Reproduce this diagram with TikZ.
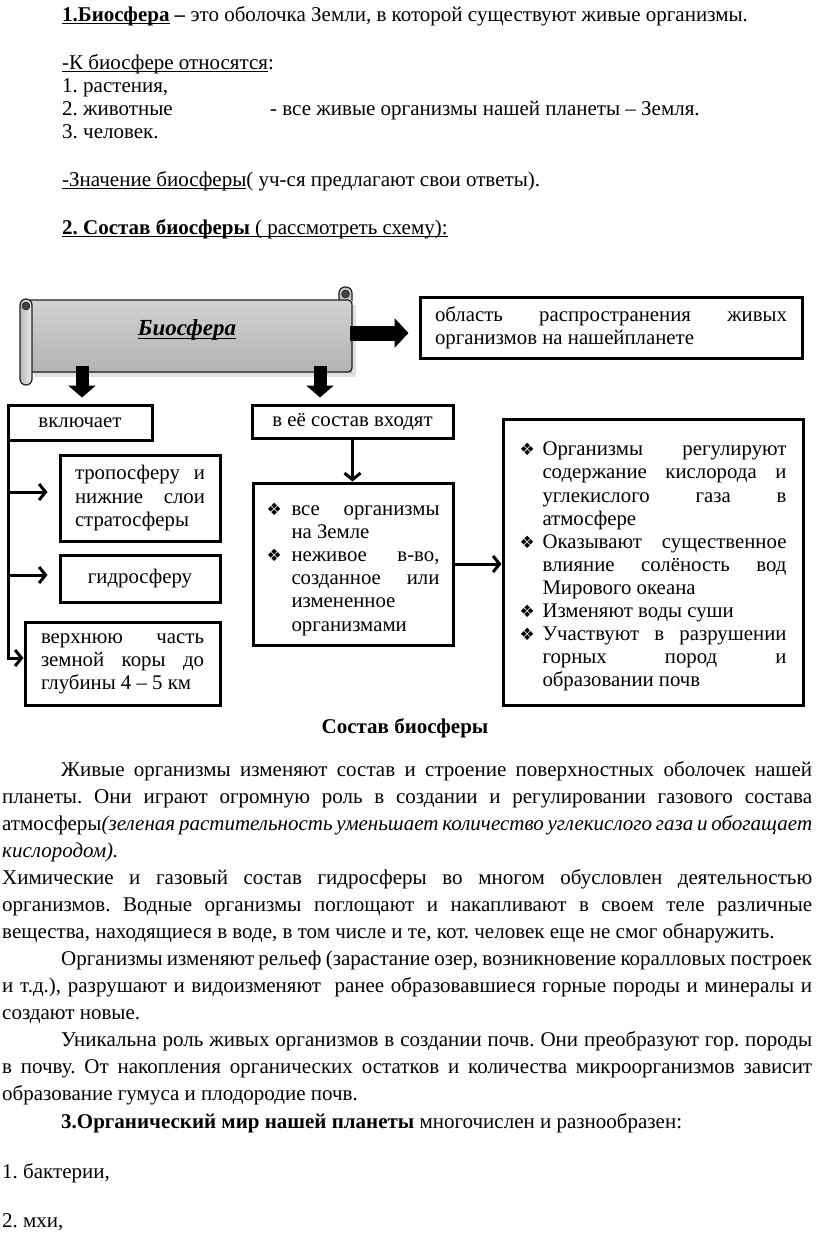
\documentclass[tikz,border=0pt]{standalone}
\usepackage{fontspec}
\setmainfont{Liberation Serif}
\newfontfamily\bulfont{DejaVu Sans}
\usetikzlibrary{arrows.meta}
\frenchspacing
\newcommand\myul[1]{\setbox0\hbox{#1}\rlap{\rule[-3.2pt]{\wd0}{1.2pt}}\box0}
\newcommand\bitem[2]{\par\noindent\hangindent=#1\hangafter=1\makebox[#1][l]{\hspace{0pt}\bulfont\fontsize{17}{17}\selectfont ❖}#2}
\newcommand\diagfont{\fontsize{20.8}{23.1}\selectfont}
\newcommand\bodyfont{\fontsize{21}{27.08}\selectfont}
\begin{document}
\begin{tikzpicture}[x=1pt,y=-1pt,
  box/.style={draw, line width=3pt, inner ysep=0pt, align=justify, font=\diagfont},
  cbox/.style={draw, line width=3pt, inner sep=0pt, align=center, font=\diagfont},
  arr/.style={line width=3pt, -{Straight Barb[length=6.5pt,width=16pt]}},
  bigarrow/.style={line width=15pt, -{Triangle[length=14pt,width=29pt]}},
  txt/.style={anchor=base west, inner sep=0pt, font=\bodyfont}]
\useasboundingbox (0,0) rectangle (816,1251);

% ---------- top text ----------
\node[txt] (t1) at (62,21) {\myul{\textbf{1.Биосфера}}\textbf{ –} это оболочка Земли, в которой существуют живые организмы.};
\node[txt] (t2) at (62,69) {\myul{-К биосфере относятся}:};
\node[txt] (t3) at (62,92) {1. растения,};
\node[txt] (t4) at (62,115) {\makebox[208pt][l]{2. животные}- все живые организмы нашей планеты – Земля.};
\node[txt] (t5) at (62,138) {3. человек.};
\node[txt] (t6) at (62,186) {\myul{-Значение биосферы}( уч-ся предлагают свои ответы).};
\node[txt] (t7) at (62,234) {\myul{\textbf{2. Состав биосферы} ( рассмотреть схему):}};

% ---------- scroll ----------
\fill[gray!40, opacity=.6] (34,305) rectangle (356,377);
\filldraw[fill=gray!45, draw=gray!25!black, line width=1.2pt, rounded corners=6pt] (339,287) rectangle (352,306);
\shade[top color=gray!35, middle color=gray!10, bottom color=gray!60] (30,300) rectangle (352,372);
\draw[gray!25!black, line width=1.2pt, rounded corners=4pt] (30,300) -- (352,300) -- (352,372) -- (30,372);
\shade[draw=gray!25!black, line width=1.2pt, left color=gray!55, right color=gray!15, rounded corners=6pt] (20,299) rectangle (32,385);
\filldraw[fill=gray!55!black, draw=gray!25!black, line width=.8pt] (26,306) circle (3.8pt);
\filldraw[fill=gray!55!black, draw=gray!25!black, line width=.8pt] (345.5,294) circle (3.8pt);
\node[inner sep=0pt, font=\fontsize{23}{23}\selectfont\bfseries\itshape] (bio) at (187,330) {\myul{Биосфера}};

% ---------- boxes ----------
\node[box, text width=352pt, inner xsep=15pt, minimum height=61pt] (area) at (611,327.5)
  {область распространения живых\linebreak организмов на нашейпланете\par};
\node[cbox, minimum width=144pt, minimum height=35pt] (incl) at (80,422.5) {включает};
\node[cbox, minimum width=201pt, minimum height=33pt] (comp) at (352.5,421.5) {в её состав входят};
\node[box, text width=130pt, inner xsep=15pt, minimum height=86pt] (tropo) at (140,498)
  {тропосферу и\linebreak нижние слои\linebreak стратосферы\par};
\node[cbox, minimum width=160pt, minimum height=47pt] (hydro) at (140,578.5) {гидросферу};
\node[box, text width=163pt, inner xsep=16pt, minimum height=83pt] (crust) at (122.5,663.5)
  {верхнюю часть\linebreak земной коры до\linebreak глубины 4 – 5 км\par};
\node[box, text width=173pt, inner xsep=13.5pt, minimum height=162pt] (living) at (353,564)
  {\bitem{25pt}{все организмы\linebreak на Земле}\bitem{25pt}{неживое в-во,\linebreak созданное или\linebreak измененное\linebreak организмами}\par};
\node[box, text width=267pt, inner xsep=16.5pt, minimum height=286pt] (roles) at (653,562)
  {\bitem{23pt}{Организмы регулируют\linebreak содержание кислорода и\linebreak углекислого газа в\linebreak атмосфере}%
   \bitem{23pt}{Оказывают существенное\linebreak влияние солёность вод\linebreak Мирового океана}%
   \bitem{23pt}{Изменяют воды суши}%
   \bitem{23pt}{Участвуют в разрушении\linebreak горных пород и\linebreak образовании почв}\par};

% ---------- block arrows ----------
\coordinate (sE) at (350,333);
\coordinate (sL) at (82,366);
\coordinate (sR) at (320,366);
\draw[bigarrow, shorten >=10pt] (sE) -- (sE -| area.west);
\draw[bigarrow, line width=13pt, -{Triangle[length=12pt,width=27pt]}, shorten >=6pt] (sL) -- (sL |- incl.north);
\draw[bigarrow, line width=13pt, -{Triangle[length=12pt,width=27pt]}, shorten >=6pt] (sR) -- (sR |- comp.north);

% ---------- thin connectors ----------
\coordinate (trunk) at ([xshift=1.5pt]incl.south west);
\coordinate (a1) at ([yshift=6pt]tropo.west);
\coordinate (a2) at ([yshift=3.5pt]hydro.west);
\coordinate (a3) at ([yshift=5.5pt]crust.west);
\draw[arr] (trunk) |- (a3);
\draw[arr, shorten >=11pt] (trunk |- a1) -- (a1);
\draw[arr, shorten >=11pt] (trunk |- a2) -- (a2);
\draw[arr] (comp.south) -- (comp.south |- living.north);
\draw[arr] (living.east) -- (living.east -| roles.west);

% ---------- caption and body ----------
\node[anchor=base, inner sep=0pt, font=\bodyfont\bfseries] (cap) at (405,733) {Состав биосферы};
\node[txt, text width=810pt, align=justify] (body) at (2,776) {%
\hspace*{59pt}Живые организмы изменяют состав и строение поверхностных оболочек нашей\linebreak
планеты. Они играют огромную роль в создании и регулировании газового состава\linebreak
атмосферы\textit{(зеленая растительность уменьшает количество углекислого газа и обогащает\linebreak
кислородом).}\par
Химические и газовый состав гидросферы во многом обусловлен деятельностью\linebreak
организмов. Водные организмы поглощают и накапливают в своем теле различные\linebreak
вещества, находящиеся в воде, в том числе и те, кот. человек еще не смог обнаружить.\par
\hspace*{59pt}Организмы изменяют рельеф (зарастание озер, возникновение коралловых построек\linebreak
и т.д.), разрушают и видоизменяют\ \ ранее образовавшиеся горные породы и минералы и\linebreak
создают новые.\par
\hspace*{59pt}Уникальна роль живых организмов в создании почв. Они преобразуют гор. породы\linebreak
в почву. От накопления органических остатков и количества микроорганизмов зависит\linebreak
образование гумуса и плодородие почв.\par
\hspace*{59pt}\textbf{3.Органический мир нашей планеты} многочислен и разнообразен:\par};
\node[txt] (b1) at (2,1178) {1. бактерии,};
\node[txt] (b2) at (2,1227) {2. мхи,};
\end{tikzpicture}
\end{document}
